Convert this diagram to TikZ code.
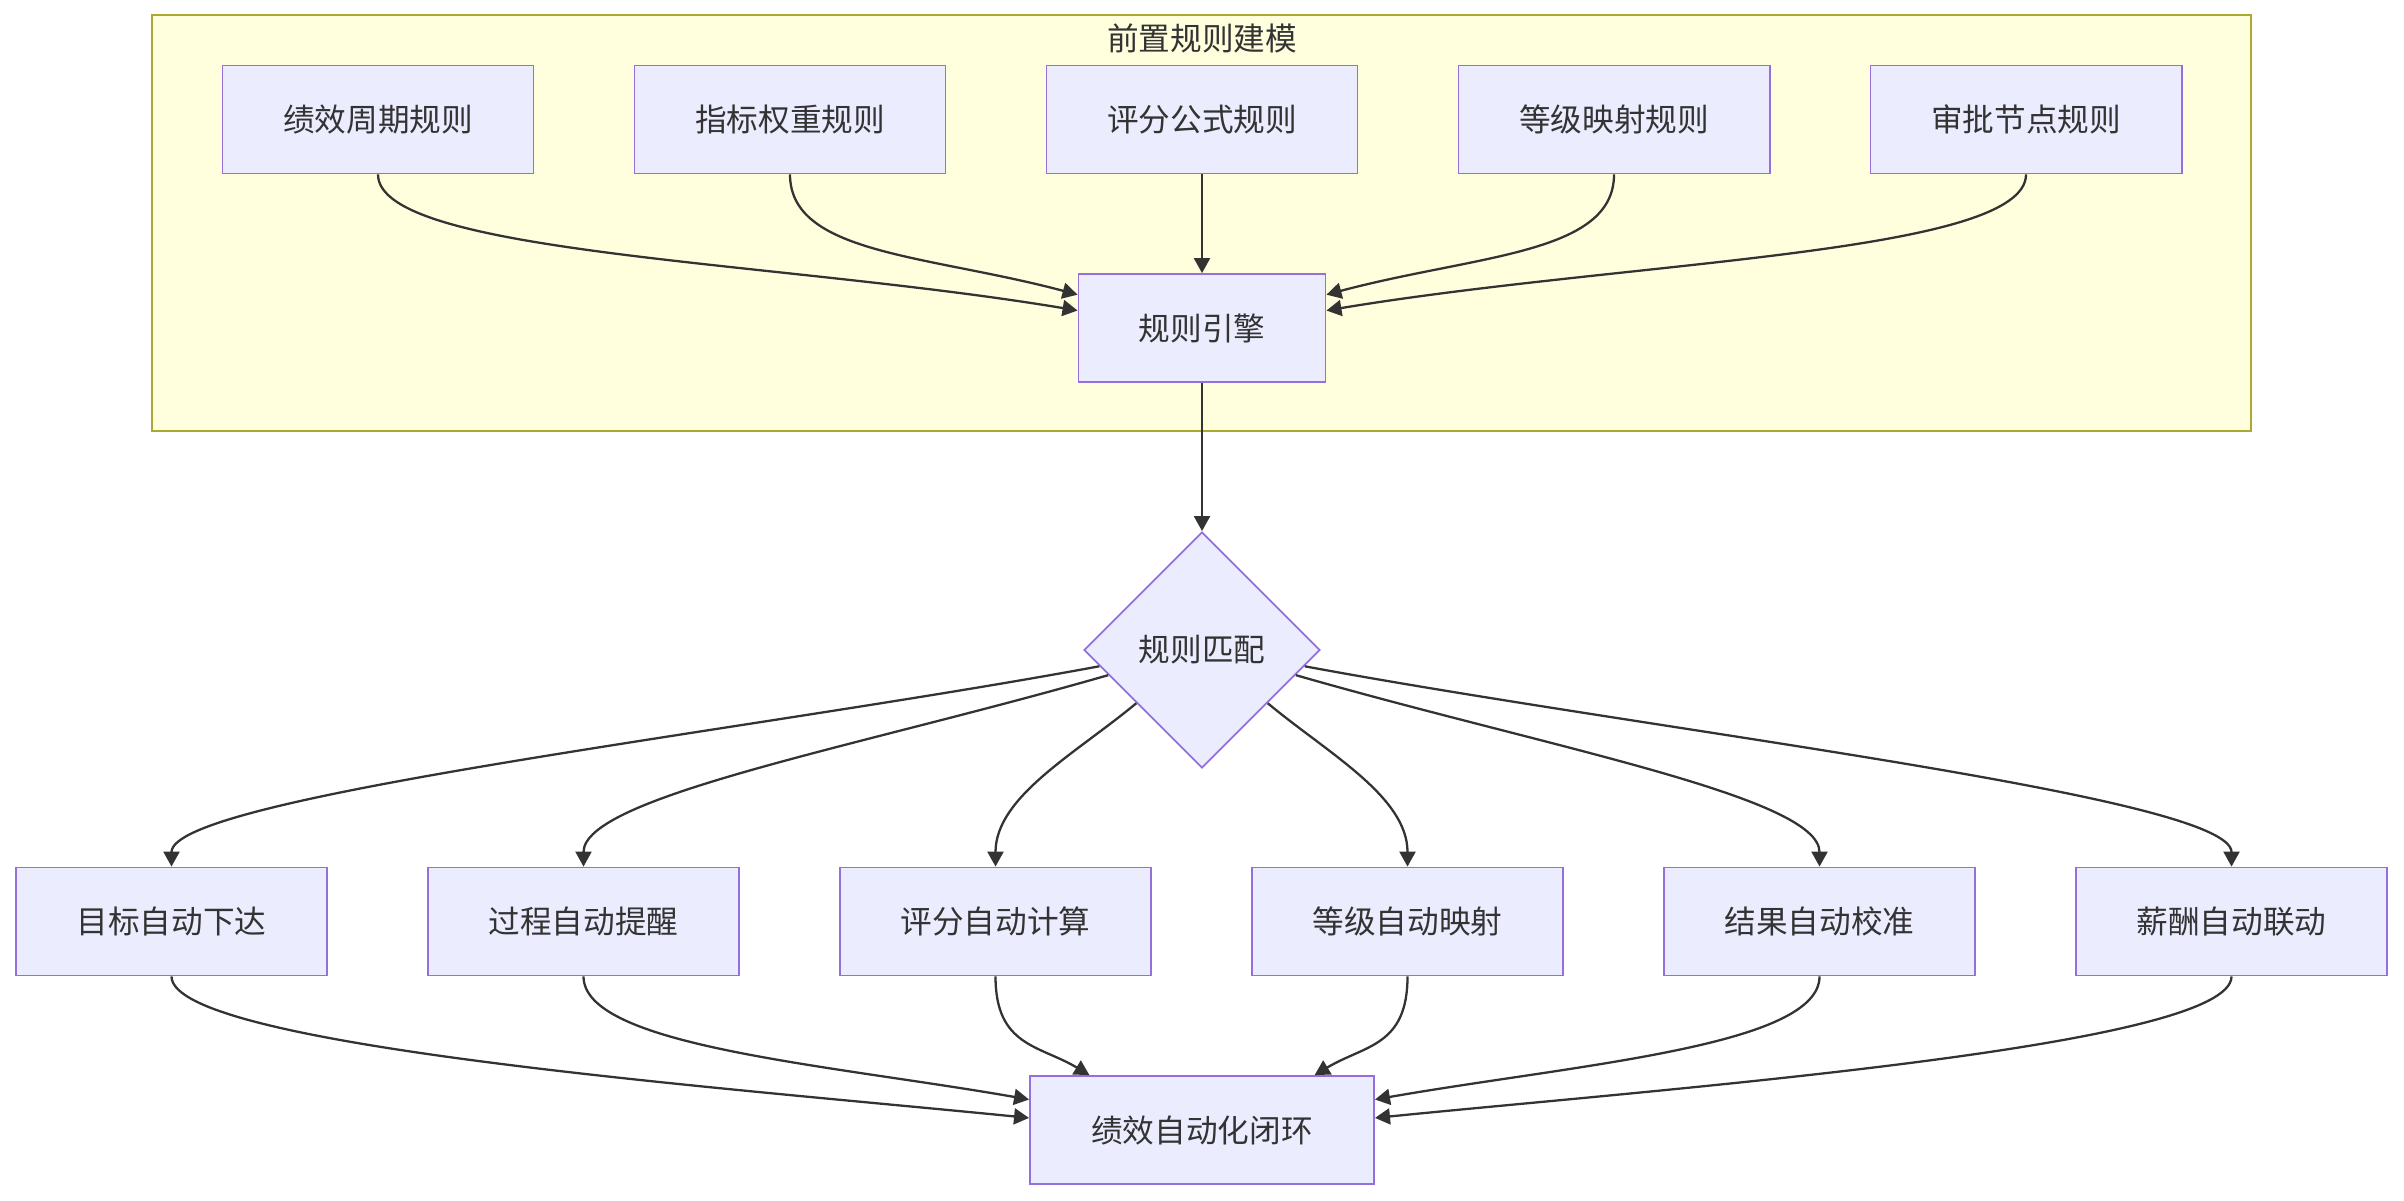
\documentclass[tikz,border=0pt]{standalone}
\usepackage{fontspec}
\setmainfont{Noto Sans CJK SC}
\usetikzlibrary{arrows.meta,shapes.geometric}
\definecolor{boxfill}{HTML}{ECECFF}
\definecolor{boxline}{HTML}{9370DB}
\definecolor{clusterfill}{HTML}{FFFFDE}
\definecolor{clusterline}{HTML}{AAAA33}
\definecolor{ink}{HTML}{333333}

\begin{document}
\begin{tikzpicture}[x=0.01cm,y=-0.01cm,font=\fontsize{9pt}{11pt}\selectfont,text=ink,
  box/.style={draw=boxline,fill=boxfill,line width=0.5pt,minimum width=3.11cm,minimum height=1.08cm,inner sep=0pt},
  edge/.style={draw=ink,line width=0.65pt,-{Triangle[length=0.15cm,width=0.16cm]}}]
 \useasboundingbox (0,0) rectangle (2404,1200);
 % rule modelling cluster
 \draw[fill=clusterfill,draw=clusterline,line width=0.5pt] (152,15) rectangle (2251,431);
 \node (title) at (1202,38) {前置规则建模};
 \foreach \i/\t in {1/绩效周期规则,2/指标权重规则,3/评分公式规则,4/等级映射规则,5/审批节点规则}
   {\node[box] (g\i) at (378+412*\i-412,119.5) {\t};}
 \node[box,minimum width=2.47cm] (eng) at (1202,328) {规则引擎};
 \node[box,diamond,aspect=1,minimum size=2.36cm] (match) at (1202,650) {规则匹配};
 \foreach \i/\t in {1/目标自动下达,2/过程自动提醒,3/评分自动计算,4/等级自动映射,5/结果自动校准,6/薪酬自动联动}
   {\node[box] (a\i) at (171.5+412*\i-412,921.5) {\t};}
 \node[box,minimum width=3.44cm] (loop) at (1202,1130) {绩效自动化闭环};
 % connectors
 \foreach \i/\a/\dx/\dy in {1/172/-300/-50,2/165/-150/-40,4/15/150/-40,5/8/300/-50}
   {\draw[edge] (g\i.south) .. controls +(0,80) and +(\dx,\dy) .. (eng.\a);}
 \draw[edge] (g3) -- (eng);
 \draw[edge] (eng) -- (match);
 \foreach \i/\a/\dx/\dy in {1/189/-350/65,2/195/-250/72,3/219/-60/50,4/321/60/50,5/345/250/72,6/351/350/65}
   {\draw[edge] (match.\a) .. controls +(\dx,\dy) and +(0,-70) .. (a\i.north);}
 \foreach \i/\a/\dx/\dy in {1/176/-300/-30,2/170/-200/-35,3/154/-50/-30,4/26/50/-30,5/10/200/-35,6/4/300/-30}
   {\draw[edge] (a\i.south) .. controls +(0,70) and +(\dx,\dy) .. (loop.\a);}
\end{tikzpicture}
\end{document}
